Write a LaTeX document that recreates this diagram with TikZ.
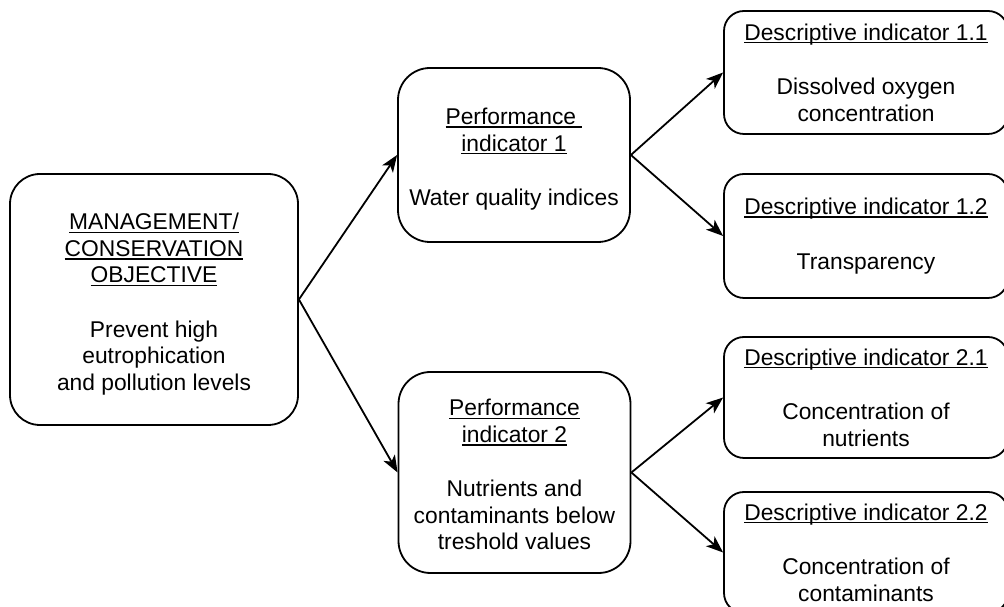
\documentclass[tikz,border=0pt]{standalone}
\usepackage{fontspec}
\setmainfont{Liberation Sans}
\usetikzlibrary{arrows.meta}
\newcommand\ulx[1]{\setbox0\hbox{#1}\rlap{\rule[-3.2pt]{\wd0}{1.5pt}}\box0}
\tikzset{
  box/.style={draw, line width=1.8pt, align=center, inner sep=0pt,
    font=\fontsize{22.8}{26.5}\selectfont},
  mainbox/.style={box, rounded corners=30pt, minimum width=288pt, minimum height=251pt},
  perfbox/.style={box, rounded corners=32pt, minimum width=232pt},
  descbox/.style={box, rounded corners=20pt, minimum width=284pt},
  conn/.style={line width=1.8pt, -{Stealth[length=17pt,width=13pt,inset=4.5pt]}}
}
\begin{document}
\begin{tikzpicture}[x=1pt,y=1pt]
\useasboundingbox (0,0) rectangle (1004,607);
\clip (0,0) rectangle (1004,607);
\node[mainbox] (obj) at (154,307.5) {\rule{0pt}{26pt}\ulx{MANAGEMENT/}\\ \ulx{CONSERVATION}\\ \ulx{OBJECTIVE}\\[28pt] Prevent high\\ eutrophication\\ and pollution levels};
\node[perfbox, minimum height=174pt] (p1) at (514,452) {\rule{0pt}{25pt}\ulx{Performance }\\ \ulx{indicator 1}\\[28pt] Water quality indices};
\node[perfbox, minimum height=201pt] (p2) at (514.5,134.5) {\rule{0pt}{21pt}\ulx{Performance}\\ \ulx{indicator 2}\\[28pt] Nutrients and\\ contaminants below\\ treshold values};
\node[descbox, minimum height=123pt] (d11) at (866,534.5) {\ulx{Descriptive indicator 1.1}\\[28pt] Dissolved oxygen\\ concentration};
\node[descbox, minimum height=124pt] (d12) at (866,371) {\ulx{Descriptive indicator 1.2}\\[28pt] Transparency};
\node[descbox, minimum height=121pt] (d21) at (866,209.5) {\ulx{Descriptive indicator 2.1}\\[28pt] Concentration of\\ nutrients};
\node[descbox, minimum height=121pt] (d22) at (866,54.5) {\ulx{Descriptive indicator 2.2}\\[28pt] Concentration of\\ contaminants};
\draw[conn] (obj.east) -- (p1.west);
\draw[conn] (obj.east) -- (p2.west);
\draw[conn] (p1.east) -- (d11.west);
\draw[conn] (p1.east) -- (d12.west);
\draw[conn] (p2.east) -- (d21.west);
\draw[conn] (p2.east) -- (d22.west);
\end{tikzpicture}
\end{document}
